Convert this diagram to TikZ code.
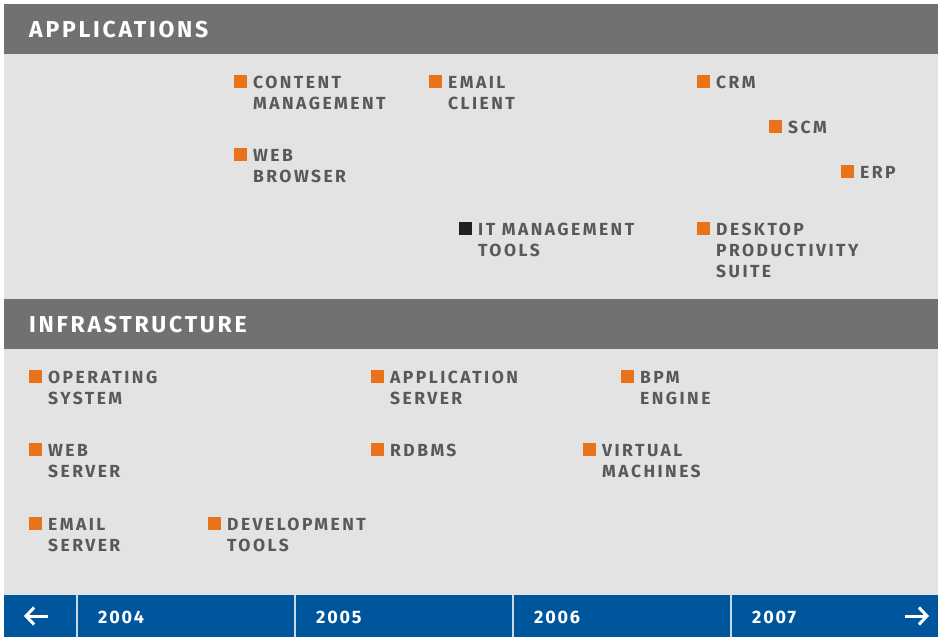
\documentclass[tikz,border=0pt]{standalone}
\usepackage{fontspec}
\setmainfont{Fira Sans}[LetterSpace=10]
\usetikzlibrary{arrows.meta}

\definecolor{bandgray}{HTML}{717171}
\definecolor{panelgray}{HTML}{E3E3E3}
\definecolor{tagorange}{HTML}{E8731A}
\definecolor{tagdark}{HTML}{231F20}
\definecolor{labelgray}{HTML}{5B5859}
\definecolor{barblue}{HTML}{00569C}
\definecolor{divider}{HTML}{C9D6E6}

\tikzset{
  band/.style={fill=bandgray, draw=none},
  panel/.style={fill=panelgray, draw=none},
  bandtitle/.style={anchor=base west, inner sep=0pt, text=white,
    font=\fontsize{23}{23}\selectfont\bfseries\addfontfeature{LetterSpace=12}},
  itemlabel/.style={anchor=base west, inner sep=0pt, text=labelgray,
    font=\fontsize{17.5}{21}\selectfont\bfseries\addfontfeature{LetterSpace=14}},
  bullet/.style={anchor=south west, inner sep=0pt, minimum width=13pt,
    minimum height=13pt, draw=none},
  yearlabel/.style={anchor=base west, inner sep=0pt, text=white,
    font=\fontsize{18}{18}\selectfont\bfseries},
  navarrow/.style={white, line width=3pt, -{Straight Barb[length=8pt,width=17pt,line width=3pt]}},
  sepline/.style={divider, line width=1.5pt}
}

% \tagitem{name}{x}{baseline y}{colour}{lines separated by \cr}
% the label box hangs from the baseline of its first line
\newcommand\tagitem[5]{%
  \node[bullet, fill=#4] (#1-sq) at (#2-19, -#3) {};
  \node[itemlabel] (#1) at (#2, -#3) {\vtop{\halign{##\hfil\cr #5\crcr}}};
}

\begin{document}
\begin{tikzpicture}[x=1pt, y=1pt]
  \useasboundingbox (0,0) rectangle (938,-637);
  \fill[white] (0,0) rectangle (938,-637);

  % applications section
  \fill[band] (4,-4) rectangle (938,-54);
  \fill[panel] (4,-54) rectangle (938,-299);
  \node[bandtitle] (apps) at (29,-37) {APPLICATIONS};

  \tagitem{cms}{253}{88}{tagorange}{CONTENT\cr MANAGEMENT}
  \tagitem{mail}{448}{88}{tagorange}{EMAIL\cr CLIENT}
  \tagitem{crm}{716}{88}{tagorange}{CRM}
  \tagitem{scm}{788}{133}{tagorange}{SCM}
  \tagitem{erp}{860}{178}{tagorange}{ERP}
  \tagitem{browser}{253}{161}{tagorange}{WEB\cr BROWSER}
  \tagitem{itm}{478}{235}{tagdark}{IT MANAGEMENT\cr TOOLS}
  \tagitem{desk}{716}{235}{tagorange}{DESKTOP\cr PRODUCTIVITY\cr SUITE}

  % infrastructure section
  \fill[band] (4,-299) rectangle (938,-349);
  \fill[panel] (4,-349) rectangle (938,-595);
  \node[bandtitle] (infra) at (29,-332) {INFRASTRUCTURE};

  \tagitem{os}{48}{383}{tagorange}{OPERATING\cr SYSTEM}
  \tagitem{appsrv}{390}{383}{tagorange}{APPLICATION\cr SERVER}
  \tagitem{bpm}{640}{383}{tagorange}{BPM\cr ENGINE}
  \tagitem{websrv}{48}{456}{tagorange}{WEB\cr SERVER}
  \tagitem{rdbms}{390}{456}{tagorange}{RDBMS}
  \tagitem{vm}{602}{456}{tagorange}{VIRTUAL\cr MACHINES}
  \tagitem{mailsrv}{48}{530}{tagorange}{EMAIL\cr SERVER}
  \tagitem{devtools}{227}{530}{tagorange}{DEVELOPMENT\cr TOOLS}

  % timeline bar
  \fill[barblue] (4,-595) rectangle (938,-637);
  \foreach \x in {77,295,513,731} \draw[sepline] (\x,-595) -- (\x,-637);
  \node[yearlabel] (y2004) at (98,-623) {2004};
  \node[yearlabel] (y2005) at (316,-623) {2005};
  \node[yearlabel] (y2006) at (534,-623) {2006};
  \node[yearlabel] (y2007) at (752,-623) {2007};
  \coordinate (prevA) at (48,-616);
  \coordinate (prevB) at (24,-616);
  \coordinate (nextA) at (905,-616);
  \coordinate (nextB) at (929,-616);
  \draw[navarrow] (prevA) -- (prevB);
  \draw[navarrow] (nextA) -- (nextB);
\end{tikzpicture}
\end{document}
